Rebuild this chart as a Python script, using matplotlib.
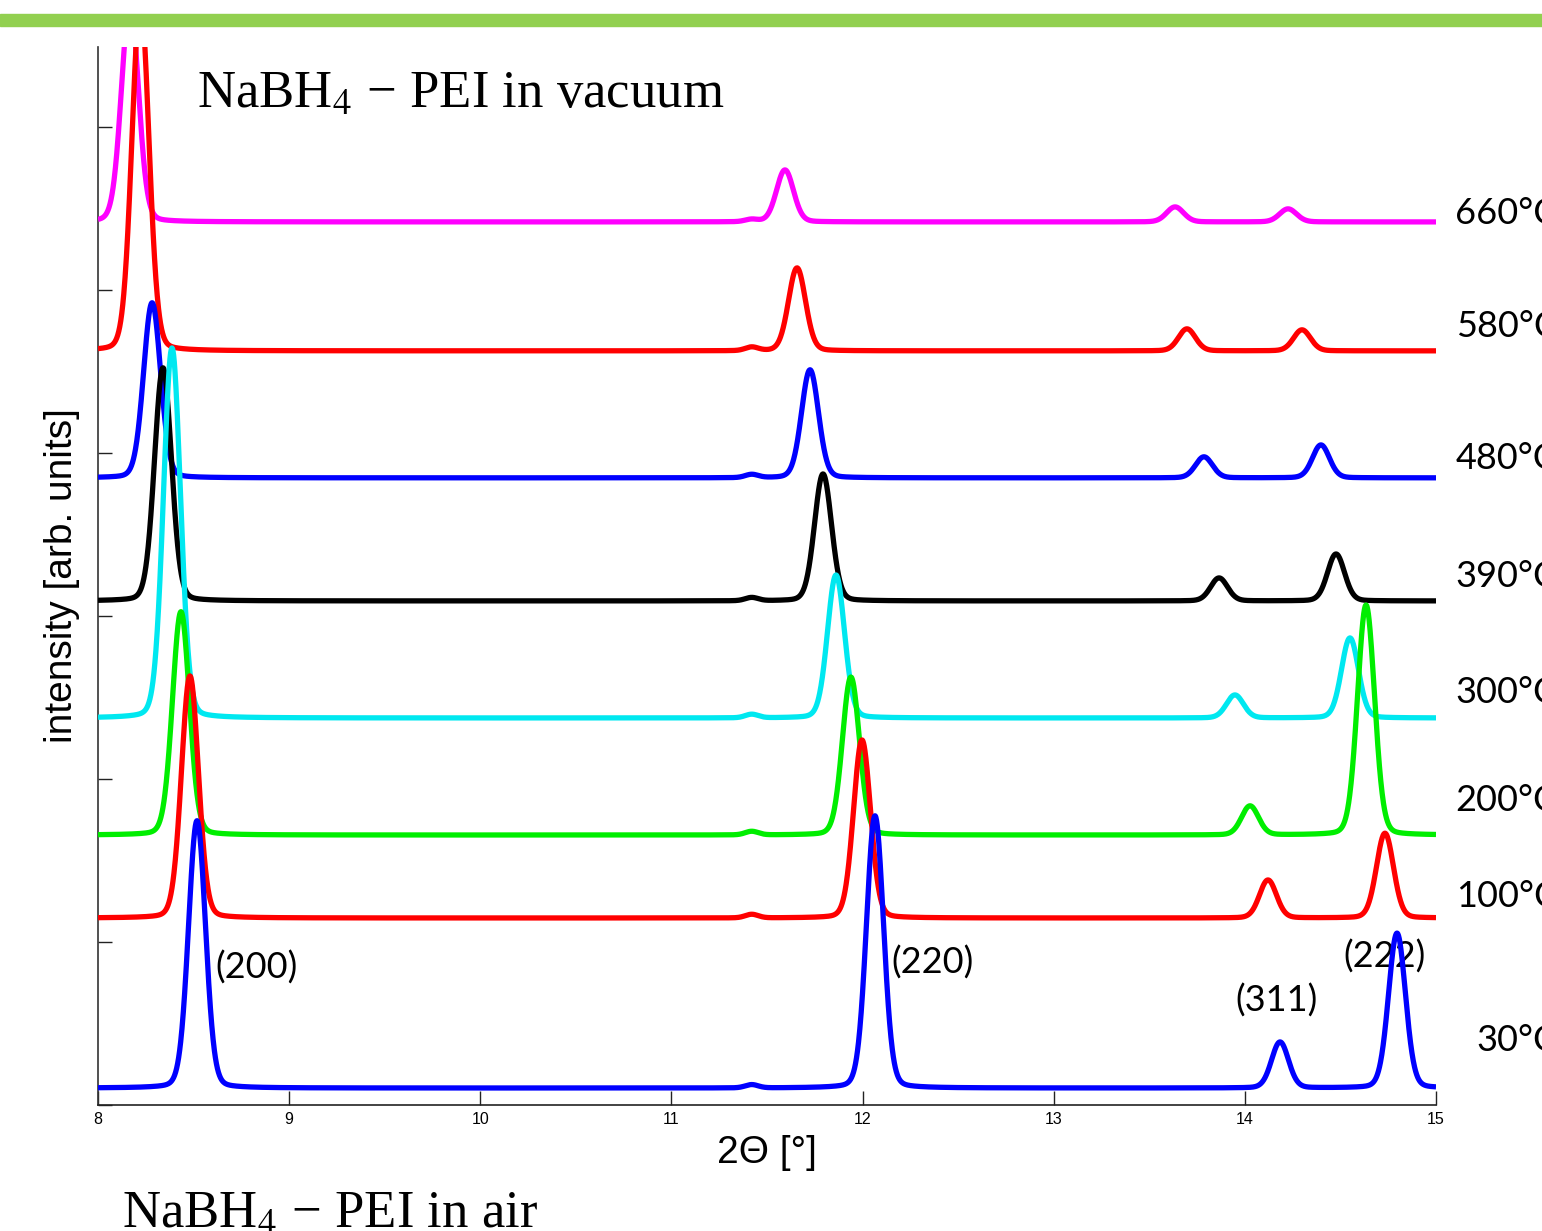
import numpy as np
import matplotlib.pyplot as plt
from matplotlib.patches import Rectangle
from matplotlib.transforms import blended_transform_factory

plt.rcParams['mathtext.fontset'] = 'stix'

# XRD patterns of NaBH4-PEI
temps = ["30°C", "100°C", "200°C", "300°C", "390°C", "480°C", "580°C", "660°C"]
colors = ["#0000ff", "#ff0000", "#00ee00", "#00e8f0", "#000000", "#0000ff", "#ff0000", "#ff00ff"]
baseline = [0.104, 1.147, 1.656, 2.374, 3.092, 3.847, 4.626, 5.417]

# peak positions 2theta [deg]
pos200 = [8.518, 8.481, 8.434, 8.387, 8.340, 8.283, 8.222, 8.167]
pos220 = [12.065, 11.997, 11.939, 11.861, 11.793, 11.725, 11.657, 11.594]
pos311 = [14.184, 14.121, 14.027, 13.948, 13.865, 13.786, 13.697, 13.635]
pos222 = [14.796, 14.733, 14.634, 14.550, 14.477, 14.398, 14.299, 14.226]
# peak heights above baseline [arb. units]
amp200 = [1.64, 1.485, 1.37, 2.27, 1.43, 1.074, 2.15, 1.35]
amp220 = [1.67, 1.092, 0.969, 0.877, 0.779, 0.663, 0.509, 0.319]
amp311 = [0.282, 0.233, 0.178, 0.141, 0.141, 0.129, 0.135, 0.092]
amp222 = [0.95, 0.52, 1.411, 0.491, 0.288, 0.202, 0.129, 0.080]
# weak bump near 11.42 deg
bump_pos = 11.42
bump_amp = [0.02, 0.022, 0.022, 0.022, 0.02, 0.02, 0.022, 0.015]

fwhm = 0.105

peak_labels = ["(200)", "(220)", "(311)", "(222)"]
peak_label_x = [8.827, 12.368, 14.163, 14.728]
peak_label_y = [0.84, 0.871, 0.64, 0.91]
temp_label_y = [0.393, 1.276, 1.865, 2.528, 3.239, 3.963, 4.773, 5.466]


def pv(x, x0, w, eta=0.12):
    s = w / 2.3548
    g = np.exp(-0.5 * ((x - x0) / s) ** 2)
    l = 1.0 / (1.0 + ((x - x0) / (w / 2)) ** 2)
    return eta * l + (1 - eta) * g


x = np.linspace(8, 15, 4000)

fig = plt.figure(figsize=(15.42, 12.31), dpi=100)
fig.patches.append(Rectangle((0, 1 - 26 / 1231), 1, 12 / 1231, transform=fig.transFigure,
                             color="#92d050", zorder=0))
ax = fig.add_axes([98 / 1542, 1 - 1105 / 1231, 1338 / 1542, 1058 / 1231])

n = len(temps)
for i in range(n):
    y = (baseline[i]
         + amp200[i] * pv(x, pos200[i], fwhm)
         + amp220[i] * pv(x, pos220[i], fwhm)
         + amp311[i] * pv(x, pos311[i], fwhm)
         + amp222[i] * pv(x, pos222[i], fwhm)
         + bump_amp[i] * pv(x, bump_pos, 0.08))
    ax.plot(x, y, color=colors[i], lw=3.8, zorder=3 + n - i, solid_capstyle="butt")

ax.set_xlim(8, 15)
ax.set_ylim(0, 6.49)
ax.set_xticks(range(8, 16))
ax.set_yticks(range(0, 7))
ax.set_yticklabels([])
ax.tick_params(direction="in", length=10, width=1, color="#222222")
ax.tick_params(axis="x", pad=5)
for lab in ax.get_xticklabels():
    lab.set_family(["Liberation Sans Narrow", "Liberation Sans"])
    lab.set_fontsize(11.5)
ax.spines["top"].set_visible(False)
ax.spines["right"].set_visible(False)
ax.spines["left"].set_color("#333333")
ax.spines["bottom"].set_color("#222222")
ax.spines["left"].set_linewidth(1.2)
ax.spines["bottom"].set_linewidth(1.2)

ax.set_xlabel("2Θ [°]", fontsize=28, family="Liberation Sans", va="center")
ax.xaxis.set_label_coords(0.5, -(1153 - 1105) / 1058)
ax.set_ylabel("intensity [arb. units]", fontsize=28, family="Liberation Sans", va="center")
ax.yaxis.set_label_coords((62 - 98) / 1338, 0.5)

for lab, px, py in zip(peak_labels, peak_label_x, peak_label_y):
    ax.text(px, py, lab, fontsize=26, family="Lato", ha="center", va="center", zorder=1)

tr = blended_transform_factory(ax.transAxes, ax.transData)
for lab, py in zip(temps, temp_label_y):
    ax.text((1558 - 98) / 1338, py, lab, transform=tr, fontsize=26, family="Lato",
            ha="right", va="center", clip_on=False)

fig.text(197 / 1542, 1 - 108 / 1231, "NaBH$_4$ − PEI in vacuum", fontsize=38,
         family="Liberation Serif", va="baseline")
fig.text(122 / 1542, 1 - 1228 / 1231, "NaBH$_4$ − PEI in air", fontsize=38,
         family="Liberation Serif", va="baseline")

fig.savefig("out.png", dpi=100)
